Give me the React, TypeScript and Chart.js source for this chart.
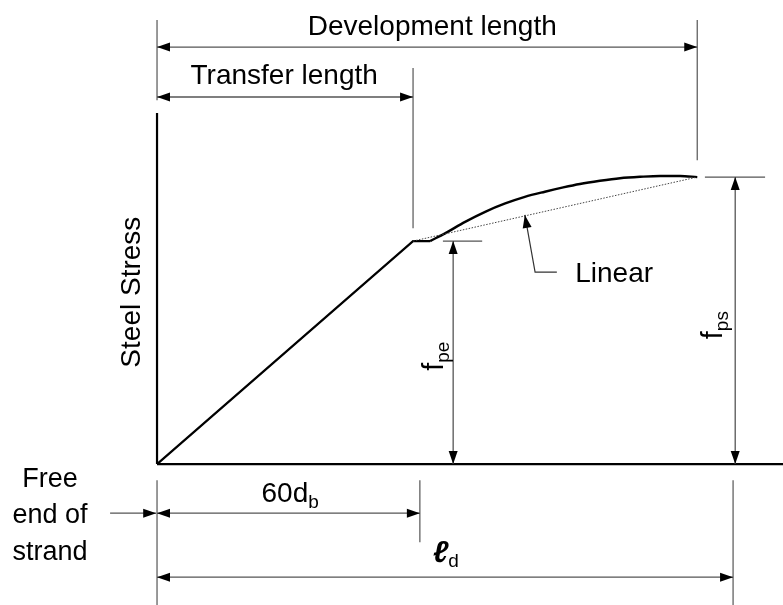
import { useEffect, useRef } from "react";
import { Chart, registerables } from "chart.js";

Chart.register(...registerables);

// ---- data (x in bar diameters d_b, y in % of f_ps) ----
const stressX = [0, 60, 64];
const stressY = [0, 77.7, 77.7];
const curveX = [64, 67.5, 72.2, 76.9, 81.6, 86.2, 90.9, 95.2, 99.1, 103.8, 108.5, 113.2, 117.9, 122.6, 126.6];
const curveY = [77.7, 80.4, 84.4, 87.9, 90.8, 93.1, 94.9, 96.4, 97.6, 98.7, 99.6, 100.1, 100.4, 100.4, 100];
const linearX = [60, 126.6];
const linearY = [77.7, 100];
const axisXLine = [0, 146.7];
const axisYTop = 122.3;
const transferLength = 60;
const developmentLength = 126.6;
const sixtyDb = 61.6;
const ldLength = 135;
const fpe = 77.7;
const fps = 100;

const FONT = "'Liberation Sans', Arial, Helvetica, sans-serif";

type Part = { t: string; size: number; dy?: number; style?: string };

function pts(xs: number[], ys: number[]) {
  return xs.map((x, i) => ({ x, y: ys[i] }));
}

function drawRich(
  ctx: CanvasRenderingContext2D,
  x: number,
  y: number,
  parts: Part[],
  align: "center" | "left",
  rot = 0
) {
  ctx.save();
  ctx.translate(x, y);
  if (rot) ctx.rotate(rot);
  ctx.textBaseline = "alphabetic";
  ctx.textAlign = "left";
  let total = 0;
  const widths = parts.map((p) => {
    ctx.font = `${p.style || ""} ${p.size}px ${FONT}`;
    const w = ctx.measureText(p.t).width;
    total += w;
    return w;
  });
  let cx = align === "center" ? -total / 2 : 0;
  parts.forEach((p, i) => {
    ctx.font = `${p.style || ""} ${p.size}px ${FONT}`;
    ctx.fillStyle = "#000";
    ctx.fillText(p.t, cx, p.dy || 0);
    cx += widths[i];
  });
  ctx.restore();
}

function head(ctx: CanvasRenderingContext2D, x: number, y: number, ang: number) {
  const L = 13;
  const W = 4.5;
  const c = Math.cos(ang);
  const s = Math.sin(ang);
  ctx.beginPath();
  ctx.moveTo(x, y);
  ctx.lineTo(x - L * c + W * s, y - L * s - W * c);
  ctx.lineTo(x - L * c - W * s, y - L * s + W * c);
  ctx.closePath();
  ctx.fill();
}

const annotPlugin = {
  id: "annot",
  afterDatasetsDraw(chart: any) {
    const ctx: CanvasRenderingContext2D = chart.ctx;
    const xs = chart.scales.x;
    const ys = chart.scales.y;
    const X = (u: number) => xs.getPixelForValue(u);
    const Y = (v: number) => ys.getPixelForValue(v);

    const line = (u1: number, v1: number, u2: number, v2: number, color = "#555", w = 1.2) => {
      ctx.save();
      ctx.strokeStyle = color;
      ctx.lineWidth = w;
      ctx.beginPath();
      ctx.moveTo(X(u1), Y(v1));
      ctx.lineTo(X(u2), Y(v2));
      ctx.stroke();
      ctx.restore();
    };
    const arrow = (u1: number, v1: number, u2: number, v2: number, start: boolean, end: boolean) => {
      const x1 = X(u1), y1 = Y(v1), x2 = X(u2), y2 = Y(v2);
      ctx.save();
      ctx.strokeStyle = "#555";
      ctx.lineWidth = 1.3;
      ctx.beginPath();
      ctx.moveTo(x1, y1);
      ctx.lineTo(x2, y2);
      ctx.stroke();
      ctx.fillStyle = "#000";
      const a = Math.atan2(y2 - y1, x2 - x1);
      if (end) head(ctx, x2, y2, a);
      if (start) head(ctx, x1, y1, a + Math.PI);
      ctx.restore();
    };

    // extension lines (top)
    line(0, 154.7, 0, 126.8);
    line(developmentLength, 154.7, developmentLength, 105.9);
    line(transferLength, 138.0, transferLength, 82.2);
    // dimension arrows (top)
    arrow(0, 145.3, developmentLength, 145.3, true, true);
    arrow(0, 127.9, transferLength, 127.9, true, true);

    // stress dimension lines
    line(128.4, fps, 142.5, fps);
    arrow(135.5, fps, 135.5, 0, true, true);
    line(67.0, fpe, 76.2, fpe);
    arrow(69.4, fpe, 69.4, 0, true, true);

    // linear leader
    ctx.save();
    ctx.strokeStyle = "#333";
    ctx.lineWidth = 1.2;
    ctx.beginPath();
    ctx.moveTo(X(93.7), Y(66.9));
    ctx.lineTo(X(88.6), Y(66.9));
    ctx.lineTo(X(86.2), Y(86.8));
    ctx.stroke();
    ctx.fillStyle = "#000";
    head(ctx, X(86.2), Y(86.8), Math.atan2(Y(86.8) - Y(66.9), X(86.2) - X(88.6)));
    ctx.restore();

    // bottom extension lines
    line(0, -5.6, 0, -49.1);
    line(sixtyDb, -5.6, sixtyDb, -27.2);
    line(ldLength, -5.6, ldLength, -49.1);
    arrow(0, -17.1, sixtyDb, -17.1, true, true);
    arrow(0, -39.4, ldLength, -39.4, true, true);
    arrow(-11.0, -17.1, -0.2, -17.1, false, true);

    // texts
    drawRich(ctx, X(64.5), Y(149.5), [{ t: "Development length", size: 28 }], "center");
    drawRich(ctx, X(29.8), Y(132.4), [{ t: "Transfer length", size: 28 }], "center");
    drawRich(ctx, X(98.0), Y(63.4), [{ t: "Linear", size: 28 }], "left");
    drawRich(ctx, X(-4.0), Y(59.9), [{ t: "Steel Stress", size: 28 }], "center", -Math.PI / 2);
    drawRich(
      ctx,
      X(67.0),
      Y(37.6),
      [
        { t: "f", size: 29 },
        { t: "pe", size: 19, dy: 6 },
      ],
      "center",
      -Math.PI / 2
    );
    drawRich(
      ctx,
      X(132.4),
      Y(48.4),
      [
        { t: "f", size: 29 },
        { t: "ps", size: 19, dy: 6 },
      ],
      "center",
      -Math.PI / 2
    );
    drawRich(
      ctx,
      X(31.2),
      Y(-13.2),
      [
        { t: "60d", size: 28 },
        { t: "b", size: 19, dy: 6 },
      ],
      "center"
    );
    drawRich(
      ctx,
      X(67.7),
      Y(-34.1),
      [
        { t: "\u2113", size: 30, style: "italic bold" },
        { t: "d", size: 19, dy: 5 },
      ],
      "center"
    );
    drawRich(ctx, X(-25.1), Y(-8.0), [{ t: "Free", size: 27 }], "center");
    drawRich(ctx, X(-25.1), Y(-20.6), [{ t: "end of", size: 27 }], "center");
    drawRich(ctx, X(-25.1), Y(-33.4), [{ t: "strand", size: 27 }], "center");
  },
};

export default function App() {
  const ref = useRef<HTMLCanvasElement>(null);
  useEffect(() => {
    const base = { showLine: true, pointRadius: 0, tension: 0, fill: false };
    const chart = new Chart(ref.current as HTMLCanvasElement, {
      type: "scatter",
      data: {
        datasets: [
          { ...base, data: pts(axisXLine, [0, 0]), borderColor: "#000", borderWidth: 2.2 },
          { ...base, data: pts([0, 0], [0, axisYTop]), borderColor: "#000", borderWidth: 2.2 },
          {
            ...base,
            data: pts(linearX, linearY),
            borderColor: "#444",
            borderWidth: 1,
            borderDash: [1.5, 1.5],
          },
          { ...base, data: pts(stressX, stressY), borderColor: "#000", borderWidth: 2.2 },
          {
            ...base,
            data: pts(curveX, curveY),
            borderColor: "#000",
            borderWidth: 2.4,
            cubicInterpolationMode: "monotone",
          },
        ] as any,
      },
      options: {
        animation: false,
        responsive: false,
        maintainAspectRatio: false,
        layout: { padding: 0 },
        plugins: { legend: { display: false }, tooltip: { enabled: false } },
        scales: {
          x: { type: "linear", min: -36.8, max: 146.7, display: false },
          y: { type: "linear", min: -49.1, max: 161.7, display: false },
        },
      },
      plugins: [annotPlugin],
    });
    return () => chart.destroy();
  }, []);
  return (
    <div style={{ position: "absolute", left: 0, top: 0, width: 783, height: 605, background: "#fff" }}>
      <canvas ref={ref} width={783} height={605} style={{ width: 783, height: 605, display: "block" }} />
    </div>
  );
}
